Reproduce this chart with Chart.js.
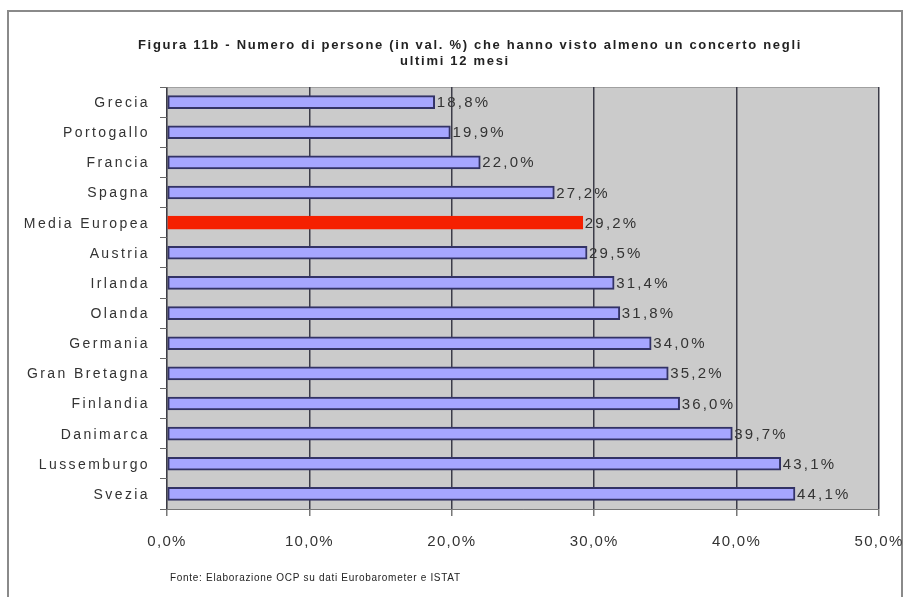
<!DOCTYPE html>
<html>
<head>
<meta charset="utf-8">
<script src="https://cdn.jsdelivr.net/npm/chart.js@4"></script>
<style>
  html, body { margin:0; padding:0; background:#fff; }
  #wrap { width:910px; height:597px; position:relative; }
</style>
</head>
<body>
<div id="wrap"><canvas id="chart" width="910" height="597"></canvas></div>
<script>
// data
const paesi = ["Grecia","Portogallo","Francia","Spagna","Media Europea","Austria","Irlanda",
  "Olanda","Germania","Gran Bretagna","Finlandia","Danimarca","Lussemburgo","Svezia"];
const valori = [18.8,19.9,22.0,27.2,29.2,29.5,31.4,31.8,34.0,35.2,36.0,39.7,43.1,44.1];
const titolo = ["Figura 11b - Numero di persone (in val. %) che hanno visto almeno un concerto negli",
  "ultimi 12 mesi"];
const fonte = "Fonte: Elaborazione OCP su dati Eurobarometer e ISTAT";

const FONT = '"Liberation Sans", Arial, sans-serif';
const fmt = v => v.toFixed(1).replace(".", ",") + "%";

const fills = paesi.map(p => p === "Media Europea" ? "#f52000" : "#a6a6ff");
const borders = paesi.map(p => p === "Media Europea" ? "#f52000" : "#333366");

// -------- PLUGINS --------
const decor = {
  id: "decor",
  beforeDraw(c){
    const ctx = c.ctx, a = c.chartArea;
    ctx.save();
    ctx.fillStyle = "#fff";
    ctx.fillRect(0,0,c.width,c.height);
    // outer frame
    ctx.strokeStyle = "#8a8a8a";
    ctx.lineWidth = 2;
    ctx.strokeRect(8,11,894,600);
    // plot area
    ctx.fillStyle = "#cbcbcb";
    ctx.fillRect(a.left,a.top,a.right-a.left,a.bottom-a.top);
    ctx.strokeStyle = "#a0a0a0";
    ctx.lineWidth = 1;
    ctx.strokeRect(a.left+0.5,a.top+0.5,a.right-a.left-1,a.bottom-a.top);
    ctx.restore();
  },
  afterDraw(c){
    const ctx = c.ctx, y = c.scales.y, x = c.scales.x;
    ctx.save();
    ctx.fillStyle = "#222";
    // title
    ctx.font = "bold 13px " + FONT;
    ctx.letterSpacing = "1.7px";
    ctx.textAlign = "center";
    ctx.textBaseline = "middle";
    ctx.fillText(titolo[0], 470, 45);
    ctx.fillText(titolo[1], 455, 61);
    // category labels
    ctx.font = "14px " + FONT;
    ctx.letterSpacing = "2.4px";
    ctx.fillStyle = "#333";
    ctx.textAlign = "right";
    paesi.forEach((p,i) => ctx.fillText(p, 150, y.getPixelForValue(i)+1));
    // x tick labels
    ctx.font = "15px " + FONT;
    ctx.letterSpacing = "1.3px";
    ctx.textAlign = "center";
    x.ticks.forEach(t => ctx.fillText(fmt(t.value), x.getPixelForValue(t.value), 542));
    // value labels
    const meta = c.getDatasetMeta(0);
    ctx.textAlign = "left";
    ctx.letterSpacing = "2.2px";
    meta.data.forEach((b,i) => ctx.fillText(fmt(valori[i]), b.x+2, b.y+1));
    // source
    ctx.font = "10px " + FONT;
    ctx.letterSpacing = "0.7px";
    ctx.fillStyle = "#222";
    ctx.fillText(fonte, 170, 578);
    ctx.restore();
  }
};

new Chart(document.getElementById("chart"), {
  type: "bar",
  data: {
    labels: paesi,
    datasets: [{
      data: valori,
      backgroundColor: fills,
      borderColor: borders,
      borderWidth: 2,
      borderSkipped: false,
      barThickness: 13
    }]
  },
  options: {
    indexAxis: "y",
    responsive: false,
    animation: false,
    layout: { padding: { left: 0, right: 31, top: 87, bottom: 0 } },
    plugins: { legend: { display:false }, tooltip: { enabled:false } },
    scales: {
      x: {
        min: 0, max: 50,
        ticks: { stepSize: 10, color: "rgba(0,0,0,0)", font: { size: 14 } },
        grid: { color: "#3c3c48", lineWidth: 1.5, tickLength: 7, tickColor: "#777" },
        border: { display: true, color: "#777", width: 1 },
        afterFit(s){ s.height = 597 - 509; }
      },
      y: {
        ticks: { color: "rgba(0,0,0,0)", font: { size: 14 } },
        grid: { drawOnChartArea: false, tickLength: 7, color: "#666", offset: true },
        border: { display: true, color: "#777" },
        afterFit(s){ s.width = 167; }
      }
    }
  },
  plugins: [decor]
});
</script>
</body>
</html>
